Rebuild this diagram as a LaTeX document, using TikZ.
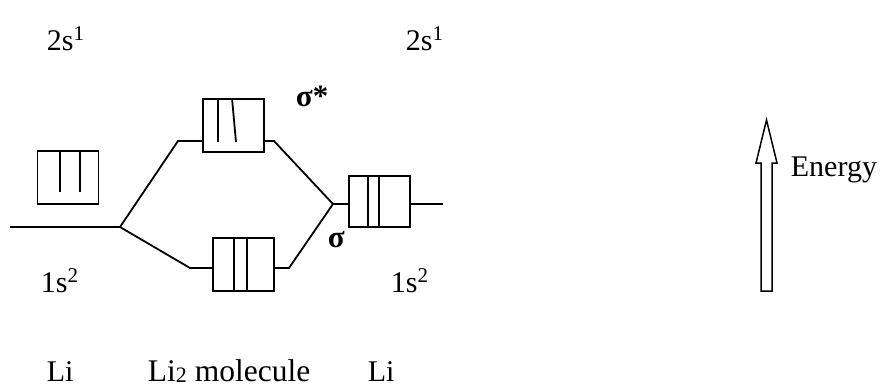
\documentclass[tikz,border=0pt]{standalone}
\usepackage{fontspec}
\setmainfont{Liberation Serif}
\begin{document}
\begin{tikzpicture}[x=1pt,y=-1pt,line width=1.8pt,
  lbl/.style={anchor=base west,inner sep=0pt,font=\fontsize{30}{36}\selectfont},
  sig/.style={anchor=base west,inner sep=0pt,font=\fontsize{31}{36}\selectfont\bfseries},
  orb/.style={draw,rectangle,minimum width=61pt,minimum height=53pt,inner sep=0pt}]
\useasboundingbox (0,0) rectangle (883,388);
% boxes
\node[orb] (b2s) at (68,177.5) {};
\node[orb] (bss) at (233.5,125.5) {};
\node[orb] (bs) at (243.5,264.5) {};
\node[orb,minimum height=51pt] (br) at (379.5,201.5) {};
% inner lines
\draw (b2s.north west -| 60,0) -- (60,192);
\draw (b2s.north west -| 80,0) -- (80,192);
\draw (bss.north west -| 218,0) -- (218,142);
\draw (bss.north west -| 232,0) -- (236,142);
\draw (bs.north west -| 234,0) -- (bs.south west -| 234,0);
\draw (bs.north west -| 247,0) -- (bs.south west -| 247,0);
\draw (br.north west -| 368,0) -- (br.south west -| 368,0);
\draw (br.north west -| 379,0) -- (br.south west -| 379,0);
% connectors
\coordinate (L0) at (10,227);
\coordinate (J1) at (120,227);
\coordinate (J2) at (333,204);
\coordinate (R0) at (443,204);
\draw (L0) -- (J1);
\draw (J1) -- (178,141) -- (bss.west |- 0,141);
\draw (J1) -- (190,268) -- (bs.west |- 0,268);
\draw (bss.east |- 0,141) -- (274,141) -- (J2);
\draw (bs.east |- 0,268) -- (289,268) -- (J2);
\draw (J2) -- (br.west |- J2);
\draw (br.east |- R0) -- (R0);
% labels
\node[lbl] (t1) at (46,50) {2s\textsuperscript{1}};
\node[lbl] (t2) at (405,50) {2s\textsuperscript{1}};
\node[lbl] (t3) at (40,292) {1s\textsuperscript{2}};
\node[lbl] (t4) at (390,292) {1s\textsuperscript{2}};
\node[lbl] (t5) at (46,381) {Li};
\node[lbl,font=\fontsize{31.5}{36}\selectfont] (t6) at (147,381) {Li{\fontsize{22}{24}\selectfont\raisebox{-1.5pt}{2}} molecule};
\node[lbl] (t7) at (367,381) {Li};
\node[sig] (s1) at (295,106) {σ*};
\node[sig] (s2) at (327,247) {σ};
\node[lbl] (en) at (790,176) {Energy};
% energy arrow
\draw[line width=1.5pt,line join=miter] (761,291) -- (761,163) -- (756,163) -- (766.5,120) -- (777,163) -- (772,163) -- (772,291) -- cycle;
\end{tikzpicture}
\end{document}
